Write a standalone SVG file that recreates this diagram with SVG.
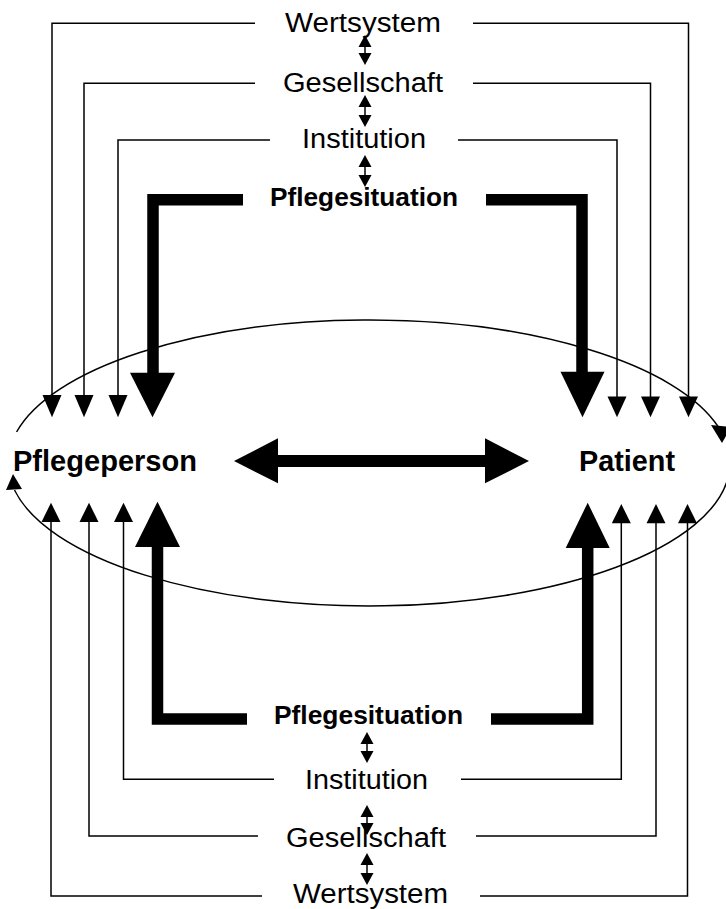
<svg xmlns="http://www.w3.org/2000/svg" width="726" height="909" viewBox="0 0 726 909">
  <style>
    .lbl { font-family: "Liberation Sans", Arial, sans-serif; font-size: 27px; fill: #000; text-anchor: middle; }
    .bold { font-family: "Liberation Sans", Arial, sans-serif; font-weight: bold; fill: #000; }
    .thin { fill: none; stroke: #000; stroke-width: 1.5; }
    .thick { fill: none; stroke: #000; stroke-width: 11.5; stroke-linejoin: miter; }
    .head { fill: #000; stroke: none; }
  </style>
  <rect width="726" height="909" fill="#fff"/>

  <!-- central ellipse drawn as two arcs, each ending in an arrowhead -->
  <g id="ellipse">
    <path class="thin" d="M 16.6 432 A 361 143 0 0 1 718.4 427"/>
    <polygon class="head" points="711,425 731,427 722,443"/>
    <path class="thin" d="M 728 478 A 361 143 0 0 1 14.5 490"/>
    <polygon class="head" points="6,490 22,489 13,474"/>
  </g>

  <g id="connectors">
    <!-- upper thin links -->
    <polyline class="thin" points="255,23.3 52,23.3 52,396"/>
    <polyline class="thin" points="255,83.3 84,83.3 84,396"/>
    <polyline class="thin" points="270,140 118,140 118,396"/>
    <polyline class="thin" points="473,23.3 688.5,23.3 688.5,397"/>
    <polyline class="thin" points="473,83.3 650.5,83.3 650.5,397"/>
    <polyline class="thin" points="458,140 617,140 617,397"/>
    <polygon class="head" points="42.5,395 61.5,395 52,417.3"/>
    <polygon class="head" points="74.5,395 93.5,395 84,417.3"/>
    <polygon class="head" points="108.5,395 127.5,395 118,417.3"/>
    <polygon class="head" points="679,396.5 698,396.5 688.5,417.3"/>
    <polygon class="head" points="641,396.5 660,396.5 650.5,417.3"/>
    <polygon class="head" points="607.5,396.5 626.5,396.5 617,417.3"/>

    <!-- lower thin links -->
    <polyline class="thin" points="262,896 51,896 51,521"/>
    <polyline class="thin" points="258,836 89,836 89,521"/>
    <polyline class="thin" points="274,779.3 123.5,779.3 123.5,521"/>
    <polyline class="thin" points="480,896 687.5,896 687.5,523"/>
    <polyline class="thin" points="476,836 656,836 656,523"/>
    <polyline class="thin" points="461,779.3 621.3,779.3 621.3,523"/>
    <polygon class="head" points="41.5,522 60.5,522 51,502.7"/>
    <polygon class="head" points="79.5,522 98.5,522 89,502.7"/>
    <polygon class="head" points="114,522 133,522 123.5,502.7"/>
    <polygon class="head" points="678,523.3 697,523.3 687.5,504"/>
    <polygon class="head" points="646.5,523.3 665.5,523.3 656,504"/>
    <polygon class="head" points="611.8,523.3 630.8,523.3 621.3,504"/>

    <!-- thick Pflegesituation links -->
    <polyline class="thick" points="243,199.7 153,199.7 153,373"/>
    <polyline class="thick" points="486,199.7 582,199.7 582,372"/>
    <polygon class="head" points="130,372.7 175,372.7 152.5,417.3"/>
    <polygon class="head" points="560.5,371.7 604.5,371.7 582.5,417.3"/>
    <polyline class="thick" points="247,719 157.5,719 157.5,547"/>
    <polyline class="thick" points="491,719 587.7,719 587.7,548"/>
    <polygon class="head" points="135,547 180,547 157.5,501.7"/>
    <polygon class="head" points="565.7,548 609.7,548 587.7,502.7"/>

    <!-- central double arrow -->
    <line x1="276" y1="461" x2="487" y2="461" stroke="#000" stroke-width="12"/>
    <polygon class="head" points="234,461 278,438.3 278,483.3"/>
    <polygon class="head" points="529,461 485,438.3 485,483.3"/>

    <!-- small double arrows between levels (top) -->
    <g>
      <line x1="365" y1="45" x2="365" y2="55" stroke="#000" stroke-width="1.5"/>
      <polygon class="head" points="365,35 358.5,47 371.5,47"/>
      <polygon class="head" points="365,65 358.5,53 371.5,53"/>
      <line x1="365" y1="105" x2="365" y2="117" stroke="#000" stroke-width="1.5"/>
      <polygon class="head" points="365,95 358.5,107 371.5,107"/>
      <polygon class="head" points="365,127 358.5,115 371.5,115"/>
      <line x1="365" y1="165" x2="365" y2="177" stroke="#000" stroke-width="1.5"/>
      <polygon class="head" points="365,155 358.5,167 371.5,167"/>
      <polygon class="head" points="365,187 358.5,175 371.5,175"/>
    </g>
    <!-- small double arrows between levels (bottom) -->
    <g>
      <line x1="367" y1="742" x2="367" y2="753" stroke="#000" stroke-width="1.5"/>
      <polygon class="head" points="367,732 360.5,744 373.5,744"/>
      <polygon class="head" points="367,763 360.5,751 373.5,751"/>
      <line x1="367" y1="815" x2="367" y2="825" stroke="#000" stroke-width="1.5"/>
      <polygon class="head" points="367,805 360.5,817 373.5,817"/>
      <polygon class="head" points="367,835 360.5,823 373.5,823"/>
      <line x1="367" y1="863" x2="367" y2="875" stroke="#000" stroke-width="1.5"/>
      <polygon class="head" points="367,853 360.5,865 373.5,865"/>
      <polygon class="head" points="367,885 360.5,873 373.5,873"/>
    </g>
  </g>

  <!-- upper levels -->
  <g id="wertsystem-top"><text class="lbl" x="363" y="31.7" textLength="156" lengthAdjust="spacingAndGlyphs">Wertsystem</text></g>
  <g id="gesellschaft-top"><text class="lbl" x="363" y="91.7" textLength="160" lengthAdjust="spacingAndGlyphs">Gesellschaft</text></g>
  <g id="institution-top"><text class="lbl" x="364" y="148.3" textLength="124" lengthAdjust="spacingAndGlyphs">Institution</text></g>
  <g id="pflegesituation-top"><text class="bold" x="364" y="206" font-size="26" text-anchor="middle" textLength="188" lengthAdjust="spacingAndGlyphs">Pflegesituation</text></g>

  <!-- the two parties -->
  <g id="pflegeperson"><text class="bold" x="13" y="471" font-size="29" textLength="184" lengthAdjust="spacingAndGlyphs">Pflegeperson</text></g>
  <g id="patient"><text class="bold" x="579" y="471" font-size="29" textLength="96" lengthAdjust="spacingAndGlyphs">Patient</text></g>

  <!-- lower levels -->
  <g id="pflegesituation-bottom"><text class="bold" x="368.5" y="723.5" font-size="26" text-anchor="middle" textLength="189" lengthAdjust="spacingAndGlyphs">Pflegesituation</text></g>
  <g id="institution-bottom"><text class="lbl" x="366.5" y="789" textLength="123" lengthAdjust="spacingAndGlyphs">Institution</text></g>
  <g id="gesellschaft-bottom"><text class="lbl" x="366" y="846.7" textLength="160" lengthAdjust="spacingAndGlyphs">Gesellschaft</text></g>
  <g id="wertsystem-bottom"><text class="lbl" x="370.5" y="903" textLength="155" lengthAdjust="spacingAndGlyphs">Wertsystem</text></g>
</svg>
